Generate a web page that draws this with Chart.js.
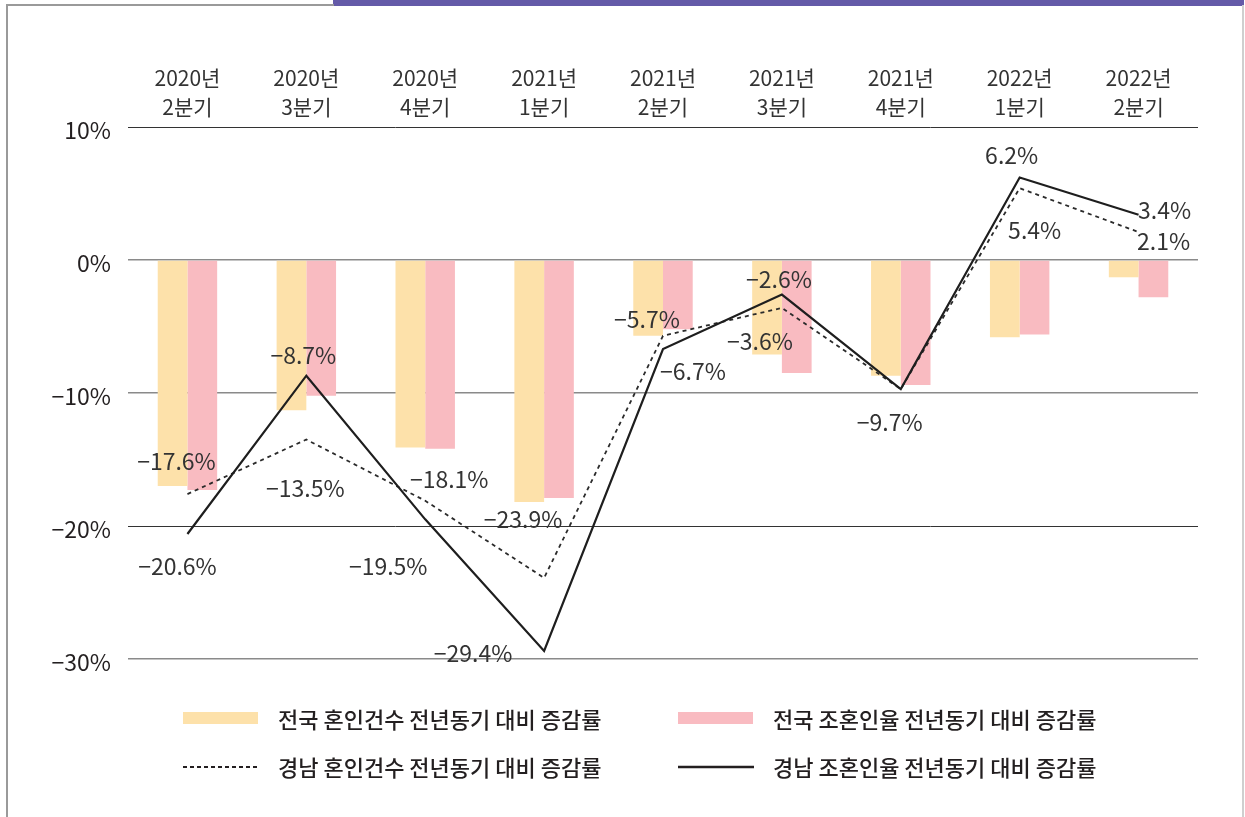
<!DOCTYPE html>
<html>
<head>
<meta charset="utf-8">
<script src="https://cdn.jsdelivr.net/npm/chart.js@4/dist/chart.umd.min.js"></script>
<style>
  html, body { margin: 0; padding: 0; background: #fff; }
  body { width: 1245px; height: 817px; position: relative; overflow: hidden;
         font-family: "Noto Sans CJK KR", "Noto Sans", sans-serif; }
  #chart { position: absolute; left: 0; top: 0; }
  .frame-left { position: absolute; left: 6px; top: 5px; width: 2px; height: 812px; background: #9a9a9a; }
  .frame-right { position: absolute; left: 1242px; top: 5px; width: 2px; height: 812px; background: #cfcfcf; }
  .frame-top { position: absolute; left: 6px; top: 4px; width: 328px; height: 2px; background: #9a9a9a; }
  .frame-accent { position: absolute; left: 333px; top: 0; width: 911px; height: 6px; background: #645aa8; }
  .lg { position: absolute; font-size: 22px; font-weight: 500; color: #231f20; line-height: 1; white-space: nowrap; }
  .sw { position: absolute; width: 75px; height: 12px; }
</style>
</head>
<body>
<div class="frame-accent"></div>
<div class="frame-top"></div>
<div class="frame-left"></div>
<div class="frame-right"></div>
<canvas id="chart" width="1245" height="817"></canvas>

<div class="sw" style="left:183px;top:712px;background:#fde1aa"></div>
<div class="lg" style="left:278px;top:707px">전국 혼인건수 전년동기 대비 증감률</div>
<div class="sw" style="left:678px;top:712px;background:#f9bbc1"></div>
<div class="lg" style="left:773px;top:707px">전국 조혼인율 전년동기 대비 증감률</div>
<svg style="position:absolute;left:183px;top:760px" width="76" height="14">
  <line x1="0" y1="7" x2="76" y2="7" stroke="#231f20" stroke-width="2" stroke-dasharray="4,3"/>
</svg>
<div class="lg" style="left:278px;top:755px">경남 혼인건수 전년동기 대비 증감률</div>
<svg style="position:absolute;left:678px;top:760px" width="76" height="14">
  <line x1="0" y1="7" x2="76" y2="7" stroke="#231f20" stroke-width="2.5"/>
</svg>
<div class="lg" style="left:773px;top:755px">경남 조혼인율 전년동기 대비 증감률</div>

<script>
// 분기 라벨
const quarters = [
  ['2020년', '2분기'], ['2020년', '3분기'], ['2020년', '4분기'],
  ['2021년', '1분기'], ['2021년', '2분기'], ['2021년', '3분기'], ['2021년', '4분기'],
  ['2022년', '1분기'], ['2022년', '2분기']
];

// 전국 (막대)
const nationCount = [-17.0, -11.3, -14.1, -18.2, -5.7, -7.1, -8.7, -5.8, -1.3];
const nationRate  = [-17.3, -10.2, -14.2, -17.9, -5.2, -8.5, -9.4, -5.6, -2.8];

// 경남 (선)
const gyeongnamCount = [-17.6, -13.5, -18.1, -23.9, -5.7, -3.6, -9.7, 5.4, 2.1];
const gyeongnamRate  = [-20.6, -8.7, -19.5, -29.4, -6.7, -2.6, -9.7, 6.2, 3.4];

const yTicks = [10, 0, -10, -20, -30];

// 라벨 위치 보정 (점 기준 px)
const countLabelOffsets = [[-11, -33], [-1, 49], [24, -21], [-21, -59], [-16, -17], [-22, 33], [-11, 33], [15, 42], [25, 9]];
const rateLabelOffsets  = [[-10, 32], [-3, -20], [-37, 47], [-71, 2], [30, 22], [-3, -15], null, [-8, -22], [26, -5]];

const fmt = (v, d) => (v < 0 ? '\u2212' + Math.abs(v).toFixed(d) : v.toFixed(d)) + '%';

const pointLabels = {
  id: 'pointLabels',
  afterDatasetsDraw(chart) {
    const ctx = chart.ctx;
    ctx.save();
    ctx.font = '400 23px "Noto Sans CJK KR"';
    ctx.fillStyle = '#333';
    ctx.textAlign = 'center';
    ctx.textBaseline = 'middle';
    chart.data.datasets.forEach((ds, di) => {
      if (!ds.labelOffsets) return;
      const meta = chart.getDatasetMeta(di);
      meta.data.forEach((pt, i) => {
        const off = ds.labelOffsets[i];
        if (!off) return;
        ctx.fillText(fmt(ds.data[i], 1), pt.x + off[0], pt.y + off[1]);
      });
    });
    ctx.restore();
  }
};

const ctx = document.getElementById('chart').getContext('2d');
new Chart(ctx, {
  type: 'bar',
  data: {
    labels: quarters,
    datasets: [
      { label: '전국 혼인건수 전년동기 대비 증감률', data: nationCount, backgroundColor: '#fde1aa',
        categoryPercentage: 0.5, barPercentage: 1.0, order: 2 },
      { label: '전국 조혼인율 전년동기 대비 증감률', data: nationRate, backgroundColor: '#f9bbc1',
        categoryPercentage: 0.5, barPercentage: 1.0, order: 2 },
      { type: 'line', label: '경남 혼인건수 전년동기 대비 증감률', data: gyeongnamCount,
        borderColor: '#2b2b2b', borderWidth: 1.8, borderDash: [4, 4], pointRadius: 0,
        tension: 0, fill: false, order: 1, labelOffsets: countLabelOffsets },
      { type: 'line', label: '경남 조혼인율 전년동기 대비 증감률', data: gyeongnamRate,
        borderColor: '#1e1e1e', borderWidth: 2.2, pointRadius: 0,
        tension: 0, fill: false, order: 0, labelOffsets: rateLabelOffsets }
    ]
  },
  options: {
    responsive: false,
    animation: false,
    layout: { padding: { left: 0, top: 0, right: 47, bottom: 158 } },
    plugins: { legend: { display: false }, tooltip: { enabled: false } },
    scales: {
      x: {
        position: 'top',
        grid: { display: false, drawTicks: false },
        border: { display: false },
        ticks: {
          padding: 6,
          color: '#333',
          font: { family: 'Noto Sans CJK KR', size: 21, lineHeight: 1.35 },
          maxRotation: 0
        },
        afterFit(scale) { scale.height = 127; }
      },
      y: {
        min: -30,
        max: 10,
        afterBuildTicks(scale) { scale.ticks = yTicks.map(v => ({ value: v })); },
        grid: {
          drawTicks: false,
          color: c => (c.tick && (c.tick.value === 10 || c.tick.value === -20)) ? '#333' : '#8a8a8a',
          lineWidth: c => (c.tick && (c.tick.value === 10 || c.tick.value === -20)) ? 1 : 1.6
        },
        border: { display: false },
        ticks: {
          padding: 17,
          labelOffset: 3,
          color: '#231f20',
          font: { family: 'Noto Sans CJK KR', size: 23 },
          callback: v => fmt(v, 0)
        },
        afterFit(scale) { scale.width = 128; }
      }
    }
  },
  plugins: [pointLabels]
});
</script>
</body>
</html>
